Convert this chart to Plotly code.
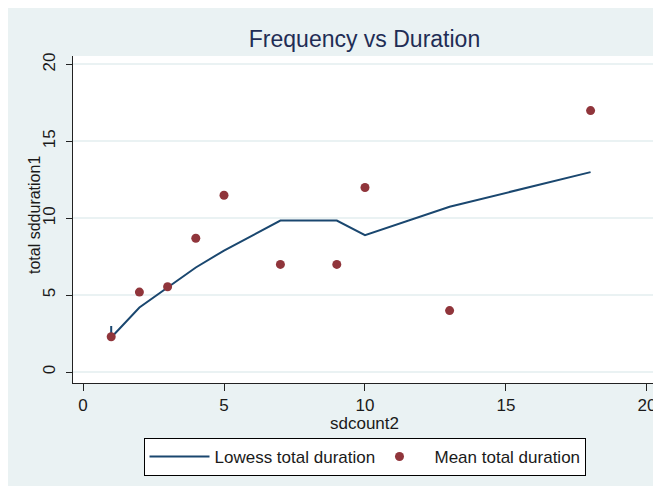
import plotly.graph_objects as go

# Data
lowess_x = [1, 1, 2, 3, 4, 5, 7, 9, 10, 13, 18]
lowess_y = [3.0, 2.25, 4.2, 5.5, 6.8, 7.9, 9.85, 9.85, 8.9, 10.75, 13.0]
mean_x = [1, 2, 3, 4, 5, 7, 9, 10, 13, 18]
mean_y = [2.3, 5.2, 5.55, 8.7, 11.5, 7.0, 7.0, 12.0, 4.0, 17.0]
tick_vals = [0, 5, 10, 15, 20]
tick_text = ["0", "5", "10", "15", "20"]

# Page has 8px body margin; figure occupies the rest of the 661x486 window
W, H = 653, 478
L, R, T, B = 65, 5, 48, 103
pw, ph = W - L - R, H - T - B

BG = "#eaf2f3"
NAVY = "#1a476f"
MAROON = "#90353b"
FONT = "Liberation Sans, Arial, sans-serif"

def fx(p):  # figure px -> paper x
    return (p - L) / pw

def fy(p):  # figure px -> paper y
    return (H - B - p) / ph

fig = go.Figure()
fig.add_trace(go.Scatter(x=lowess_x, y=lowess_y, mode="lines",
                         name="Lowess total duration",
                         line=dict(color=NAVY, width=2)))
fig.add_trace(go.Scatter(x=mean_x, y=mean_y, mode="markers",
                         name="Mean total duration",
                         marker=dict(color=MAROON, size=9)))

fig.update_layout(
    width=W, height=H,
    margin=dict(l=L, r=R, t=T, b=B, pad=0, autoexpand=False),
    paper_bgcolor=BG,
    plot_bgcolor="white",
    font=dict(family=FONT, size=16, color="#1a1a1a"),
    title=dict(text="Frequency vs Duration", x=0.5, xref="paper",
               y=1 - 30.5 / H, yref="container", yanchor="middle", xanchor="center",
               font=dict(size=23, color="#1f2d55", family=FONT)),
    showlegend=True,
    legend=dict(orientation="h", x=0.5, xanchor="center",
                y=fy(430), yanchor="top",
                bgcolor="white", bordercolor="#000000", borderwidth=1,
                font=dict(size=17, color="#1a1a1a", family=FONT),
                itemwidth=60, entrywidth=145, entrywidthmode="pixels"),
    annotations=[
        dict(text="sdcount2", xref="paper", yref="paper", x=0.5, y=fy(415),
             xanchor="center", yanchor="middle", showarrow=False,
             font=dict(size=17, color="#1a1a1a", family=FONT)),
        dict(text="total sdduration1", xref="paper", yref="paper", x=fx(26), y=fy(207),
             xanchor="center", yanchor="middle", showarrow=False, textangle=-90,
             font=dict(size=16, color="#1a1a1a", family=FONT)),
    ],
    xaxis=dict(range=[-0.355, 20.32], tickvals=tick_vals, ticktext=tick_text,
               showgrid=False, zeroline=False, showline=True, linecolor="#222",
               linewidth=1, ticks="outside", ticklen=7, tickcolor="#222",
               tickfont=dict(size=17), automargin=False),
    yaxis=dict(range=[-0.71, 20.55], tickvals=tick_vals, ticktext=tick_text,
               showgrid=True, gridcolor=BG, gridwidth=1.5, zeroline=False,
               showline=True, linecolor="#222", linewidth=1,
               ticks="outside", ticklen=6, tickcolor="#222", ticklabelstandoff=4,
               tickangle=-90, tickfont=dict(size=17), automargin=False),
)

fig.write_html("out.html")
